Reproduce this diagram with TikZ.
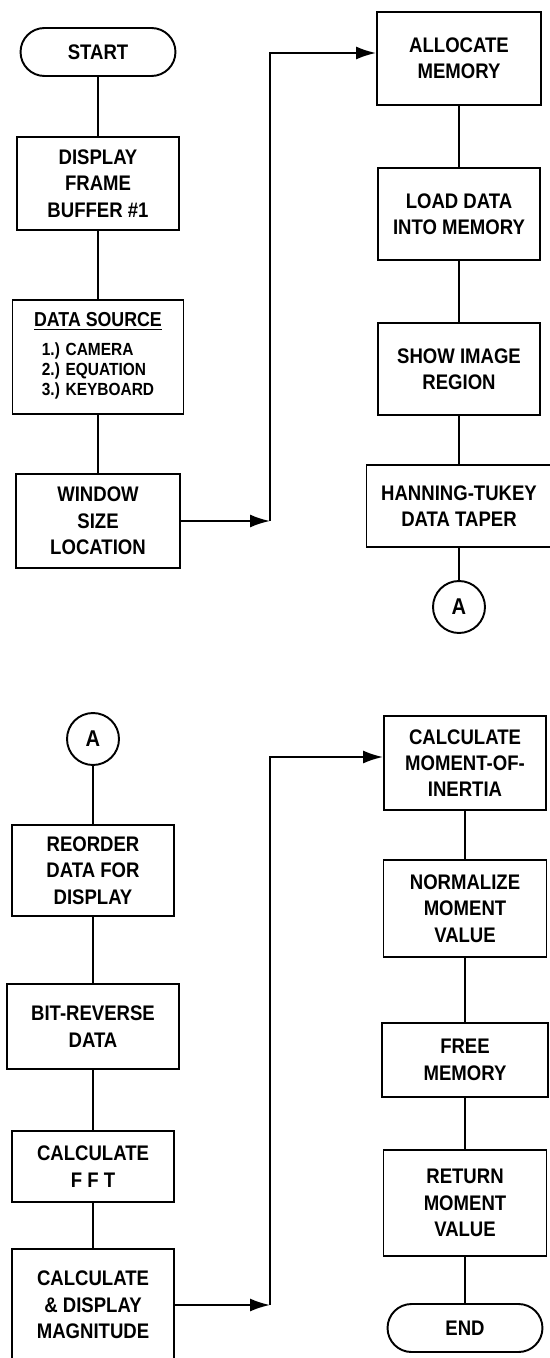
\documentclass[tikz,border=0pt]{standalone}
\usepackage{fontspec}
\newfontfamily\flowfont[FakeStretch=0.88]{Liberation Sans}
\usetikzlibrary{arrows.meta,shapes.misc,positioning}

\begin{document}
\begin{tikzpicture}[x=0.02cm,y=-0.02cm]
  \tikzset{
    proc/.style={draw=black, line width=1.1pt, fill=white, minimum width=3.24cm, align=center, inner sep=2pt, font=\flowfont\bfseries\fontsize{12}{15}\selectfont},
    term/.style={proc, rounded rectangle, minimum height=0.96cm},
    conn/.style={draw=black, line width=1.1pt, circle, minimum size=1.04cm, inner sep=0pt, font=\flowfont\bfseries\fontsize{13}{15}\selectfont},
    link/.style={black, line width=1.1pt},
    flow/.style={link, -{Latex[length=4mm,width=2.6mm]}}
  }

  % page frame (the scan is cut at the right and bottom)
  \useasboundingbox (0,0) rectangle (550,1358);
  \clip (0,0) rectangle (550,1358);

  % column positions
  \def\xA{98}
  \def\xB{459}
  \def\xC{93}
  \def\xD{465}
  \def\xR{270}

  % ================= FIRST PAGE, LEFT =================
  \node[term] (start) at (\xA,52) {START};
  \node[proc, minimum height=1.86cm] (disp) at (\xA,183.5) {DISPLAY\\FRAME\\BUFFER \#1};
  \node[proc, minimum width=3.42cm, minimum height=2.28cm] (src) at (\xA,357)
    {{\fontsize{11.5}{13}\selectfont\underline{DATA SOURCE}}\\[5pt]
     {\fontsize{10}{11.5}\selectfont\begin{tabular}{@{}l@{}}1.) CAMERA\\2.) EQUATION\\3.) KEYBOARD\end{tabular}}};
  \node[proc, minimum width=3.28cm, minimum height=1.88cm] (win) at (\xA,521) {WINDOW\\SIZE\\LOCATION};

  % ================= FIRST PAGE, RIGHT =================
  \node[proc, minimum width=3.28cm, minimum height=1.86cm] (alloc) at (\xB,58.5) {ALLOCATE\\MEMORY};
  \node[proc, minimum height=1.84cm] (load) at (\xB,214) {LOAD DATA\\INTO MEMORY};
  \node[proc, minimum height=1.84cm] (show) at (\xB,369) {SHOW IMAGE\\REGION};
  \node[proc, minimum width=3.7cm, minimum height=1.64cm] (hann) at (\xB,506) {HANNING-TUKEY\\DATA TAPER};
  \node[conn] (ca) at (\xB,607) {A};

  % ================= SECOND PAGE, LEFT =================
  \node[conn] (cb) at (\xC,739) {A};
  \node[proc, minimum height=1.82cm] (reord) at (\xC,870.5) {REORDER\\DATA FOR\\DISPLAY};
  \node[proc, minimum width=3.44cm, minimum height=1.7cm] (bitrev) at (\xC,1026.5) {BIT-REVERSE\\DATA};
  \node[proc, minimum height=1.42cm] (fft) at (\xC,1166.5) {CALCULATE\\F F T};
  \node[proc, minimum height=2.24cm] (mag) at (\xC,1305) {CALCULATE\\\& DISPLAY\\MAGNITUDE};

  % ================= SECOND PAGE, RIGHT =================
  \node[proc, minimum height=1.88cm] (mom) at (\xD,763) {CALCULATE\\MOMENT-OF-\\INERTIA};
  \node[proc, minimum width=3.26cm, minimum height=1.94cm] (norm) at (\xD,908.5) {NORMALIZE\\MOMENT\\VALUE};
  \node[proc, minimum width=3.32cm, minimum height=1.48cm] (free) at (\xD,1060) {FREE\\MEMORY};
  \node[proc, minimum width=3.26cm, minimum height=2.12cm] (retn) at (\xD,1203) {RETURN\\MOMENT\\VALUE};
  \node[term] (stop) at (\xD,1328) {END};

  % Straight links
  \draw[link] (start) -- (disp);
  \draw[link] (disp) -- (src);
  \draw[link] (src) -- (win);
  \draw[link] (alloc) -- (load);
  \draw[link] (load) -- (show);
  \draw[link] (show) -- (hann);
  \draw[link] (hann) -- (ca);
  \draw[link] (cb) -- (reord);
  \draw[link] (reord) -- (bitrev);
  \draw[link] (bitrev) -- (fft);
  \draw[link] (fft) -- (mag);
  \draw[link] (mom) -- (norm);
  \draw[link] (norm) -- (free);
  \draw[link] (free) -- (retn);
  \draw[link] (retn) -- (stop);

  % Routed arrows
  \coordinate (j1) at (\xR,521);
  \coordinate (j2) at (\xR,53);
  \draw[flow] (win) -- (j1);
  \draw[flow] (j1) -- (j2) -- (j2 -| alloc.west);

  \coordinate (j3) at (\xR,1305);
  \coordinate (j4) at (\xR,757);
  \draw[flow] (mag) -- (j3);
  \draw[flow] (j3) -- (j4) -- (j4 -| mom.west);

\end{tikzpicture}
\end{document}
